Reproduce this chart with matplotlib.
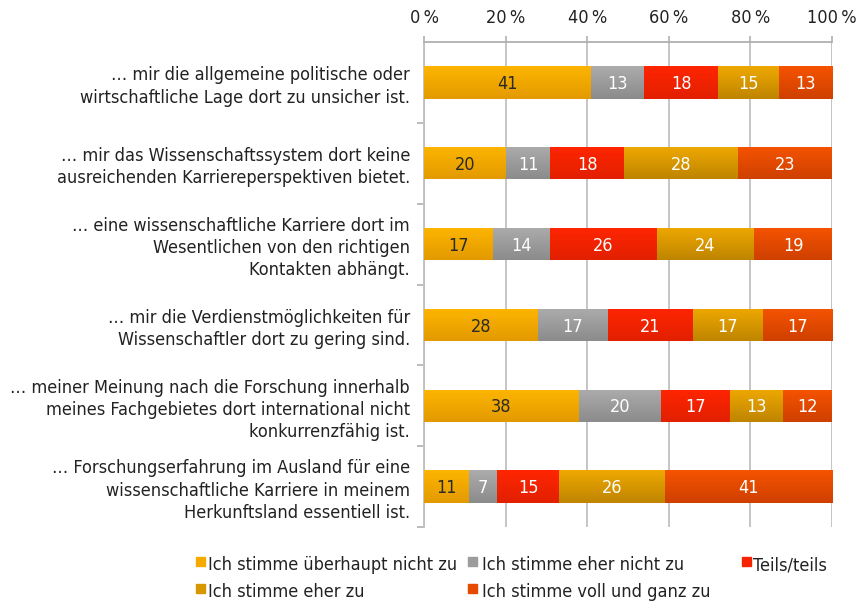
import matplotlib
matplotlib.use("Agg")
import matplotlib.pyplot as plt
import numpy as np
from matplotlib.colors import to_rgb
from matplotlib.patches import Rectangle
from matplotlib.ticker import FixedLocator

plt.rcParams["font.family"] = ["DejaVu Sans"]
plt.rcParams["font.stretch"] = "condensed"

STATEMENTS = [
    "… mir die allgemeine politische oder\nwirtschaftliche Lage dort zu unsicher ist.",
    "… mir das Wissenschaftssystem dort keine\nausreichenden Karriereperspektiven bietet.",
    "… eine wissenschaftliche Karriere dort im\nWesentlichen von den richtigen\nKontakten abhängt.",
    "… mir die Verdienstmöglichkeiten für\nWissenschaftler dort zu gering sind.",
    "… meiner Meinung nach die Forschung innerhalb\nmeines Fachgebietes dort international nicht\nkonkurrenzfähig ist.",
    "… Forschungserfahrung im Ausland für eine\nwissenschaftliche Karriere in meinem\nHerkunftsland essentiell ist.",
]

SERIES_NAMES = [
    "Ich stimme überhaupt nicht zu",
    "Ich stimme eher nicht zu",
    "Teils/teils",
    "Ich stimme eher zu",
    "Ich stimme voll und ganz zu",
]

ueberhaupt_nicht = [41, 20, 17, 28, 38, 11]
eher_nicht = [13, 11, 14, 17, 20, 7]
teils = [18, 18, 26, 21, 17, 15]
eher_zu = [15, 28, 24, 17, 13, 26]
voll = [13, 23, 19, 17, 12, 41]

VALUES = [ueberhaupt_nicht, eher_nicht, teils, eher_zu, voll]
COLORS = ["#f6aa00", "#9c9c9c", "#f52300", "#d89700", "#e54a00"]
TOP_COLORS = ["#fdb500", "#ababab", "#ff2500", "#eea800", "#f55300"]
BOTTOM_COLORS = ["#e39a00", "#8c8c8c", "#e22000", "#bf8500", "#cf4000"]
TEXT_COLORS = ["#2a2a2a", "white", "white", "white", "white"]

X_TICKS = [0, 20, 40, 60, 80, 100]
FS = 13


def gradient(top, bottom, n=32):
    t = np.linspace(0, 1, n)[:, None]
    c = (1 - t) * np.array(to_rgb(top)) + t * np.array(to_rgb(bottom))
    return c[:, None, :]


fig = plt.figure(figsize=(8.67, 6.03), dpi=100)
ax = fig.add_axes([424 / 867, 1 - 527 / 603, 408 / 867, 485 / 603])

ys = list(range(len(STATEMENTS)))
lefts = [0] * len(STATEMENTS)
for vals, color, top, bot, tcolor in zip(VALUES, COLORS, TOP_COLORS,
                                         BOTTOM_COLORS, TEXT_COLORS):
    bars = ax.barh(ys, vals, left=lefts, height=0.4, color=color, zorder=3)
    grad = gradient(top, bot)
    for patch in bars:
        x0, y0, w, h = patch.get_x(), patch.get_y(), patch.get_width(), patch.get_height()
        im = ax.imshow(grad, extent=(x0, x0 + w, y0 + h, y0), origin="upper",
                       aspect="auto", zorder=3.5, interpolation="bilinear")
        im.set_clip_path(patch)
    for y, l, v in zip(ys, lefts, vals):
        ax.text(l + v / 2, y + 0.02, str(v), ha="center", va="center",
                color=tcolor, fontsize=FS, zorder=4)
    lefts = [l + v for l, v in zip(lefts, vals)]

ax.set_xlim(0, 100)
ax.set_ylim(len(STATEMENTS) - 0.5, -0.5)
ax.set_xticks(X_TICKS)
ax.set_xticklabels([f"{t}\u2009%" for t in X_TICKS], fontsize=FS, color="#222222")
ax.xaxis.tick_top()
ax.tick_params(axis="x", length=4, pad=7, color="#b0b0b0", width=1.2)
ax.grid(axis="x", color="#c0c0c0", linewidth=1.3, zorder=0)

ax.set_yticks(ys)
ax.set_yticklabels(STATEMENTS, fontsize=FS, color="#222222", linespacing=1.3)
ax.tick_params(axis="y", which="major", length=0, pad=10)
ax.yaxis.set_minor_locator(FixedLocator([y + 0.5 for y in ys]))
ax.tick_params(axis="y", which="minor", length=5, color="#b0b0b0", width=1.2)

for side in ["right", "bottom"]:
    ax.spines[side].set_visible(False)
ax.spines["left"].set_color("#c0c0c0")
ax.spines["left"].set_linewidth(1.3)
ax.spines["top"].set_color("#b0b0b0")
ax.spines["top"].set_linewidth(1.3)

# legend drawn by hand to mimic the uneven column placement
# (square left x, text left x, row centre y) in pixels
legend_pos = [(196, 208, 565), (468, 482, 565), (742, 753, 565),
              (196, 208, 592), (468, 482, 592)]
W, H = 867, 603
for name, color, (sx, tx, py) in zip(SERIES_NAMES, COLORS, legend_pos):
    fig.patches.append(Rectangle((sx / W, 1 - (py + 1) / H), 9 / W, 9 / H,
                                 transform=fig.transFigure, color=color))
    fig.text(tx / W, 1 - py / H, name, fontsize=FS, color="#222222",
             ha="left", va="center")

fig.savefig("out.png", dpi=100)
